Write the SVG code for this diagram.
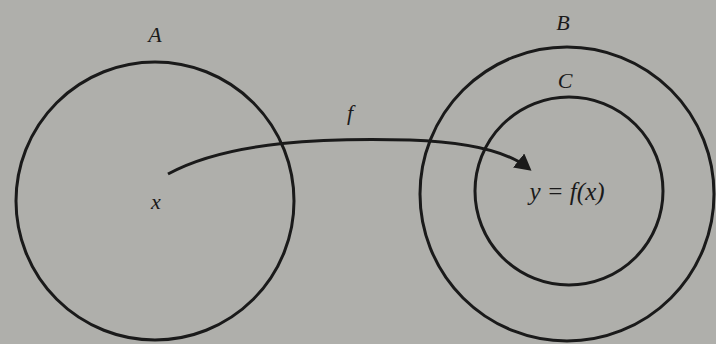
<svg xmlns="http://www.w3.org/2000/svg" width="716" height="344" viewBox="0 0 716 344">
<style>
.c{fill:none;stroke:#1a1a1a;stroke-width:3}
.t{font-family:"Liberation Serif",serif;font-style:italic;font-size:22px;fill:#1a1a1a;text-anchor:middle}
</style>
<defs>
<marker id="ah" markerWidth="6" markerHeight="6" refX="4" refY="3" orient="auto" markerUnits="strokeWidth">
<path d="M0,0 L5.5,3 L0,6 Z" fill="#1a1a1a"/>
</marker>
</defs>
<rect width="716" height="344" fill="#afafab"/>
<g id="setA">
<circle class="c" cx="155" cy="201" r="139"/>
<text class="t" x="155" y="42">A</text>
<text class="t" x="156" y="209">x</text>
</g>
<g id="setB">
<circle class="c" cx="567" cy="194" r="147"/>
<text class="t" x="563" y="30">B</text>
</g>
<g id="setC">
<circle class="c" cx="569" cy="191" r="94"/>
<text class="t" x="565" y="88">C</text>
<text class="t" x="567" y="200" style="font-size:25px">y = f(x)</text>
</g>
<g id="connectors">
<path class="c" d="M168,174 C230,140 330,138 410,140 C470,142 508,152 528,168" marker-end="url(#ah)"/>
<text class="t" x="350" y="120">f</text>
</g>
</svg>
